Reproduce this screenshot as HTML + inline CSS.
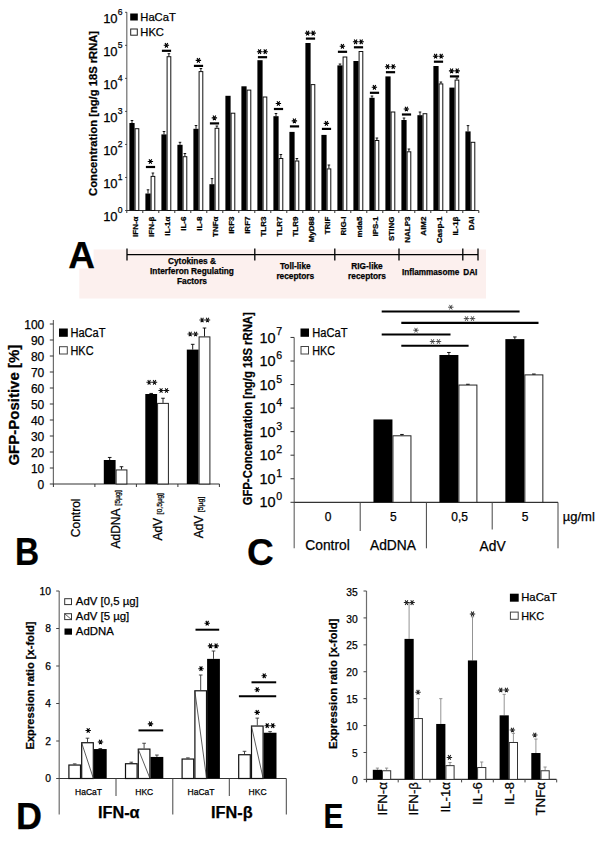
<!DOCTYPE html>
<html><head><meta charset="utf-8"><style>
html,body{margin:0;padding:0;background:#fff;}
svg{display:block;font-family:"Liberation Sans",sans-serif;}
text{stroke:#000;stroke-width:0.25px;}
</style></head><body>
<svg width="600" height="844" viewBox="0 0 600 844">
<rect width="600" height="844" fill="#fff"/>
<rect x="79.3" y="249.5" width="406.7" height="49" fill="#fcf0ee"/>
<rect x="60" y="240" width="33.6" height="28.5" fill="#fff"/>
<line x1="126.8" y1="12.3" x2="126.8" y2="210.5" stroke="#6d6d6d" stroke-width="1.2" />
<line x1="126.8" y1="210.5" x2="478.8" y2="210.5" stroke="#333" stroke-width="1.2" />
<line x1="125.2" y1="210.5" x2="126.8" y2="210.5" stroke="#333" stroke-width="1" />
<text x="117.6" y="221.4" font-size="13" text-anchor="end" fill="#000" >10</text>
<text x="117.7" y="212.9" font-size="8.6" text-anchor="start" fill="#000" >0</text>
<line x1="125.2" y1="177.47" x2="126.8" y2="177.47" stroke="#333" stroke-width="1" />
<text x="117.6" y="188.37" font-size="13" text-anchor="end" fill="#000" >10</text>
<text x="117.7" y="179.87" font-size="8.6" text-anchor="start" fill="#000" >1</text>
<line x1="125.2" y1="144.44" x2="126.8" y2="144.44" stroke="#333" stroke-width="1" />
<text x="117.6" y="155.34" font-size="13" text-anchor="end" fill="#000" >10</text>
<text x="117.7" y="146.84" font-size="8.6" text-anchor="start" fill="#000" >2</text>
<line x1="125.2" y1="111.41" x2="126.8" y2="111.41" stroke="#333" stroke-width="1" />
<text x="117.6" y="122.31" font-size="13" text-anchor="end" fill="#000" >10</text>
<text x="117.7" y="113.81" font-size="8.6" text-anchor="start" fill="#000" >3</text>
<line x1="125.2" y1="78.38" x2="126.8" y2="78.38" stroke="#333" stroke-width="1" />
<text x="117.6" y="89.28" font-size="13" text-anchor="end" fill="#000" >10</text>
<text x="117.7" y="80.78" font-size="8.6" text-anchor="start" fill="#000" >4</text>
<line x1="125.2" y1="45.35" x2="126.8" y2="45.35" stroke="#333" stroke-width="1" />
<text x="117.6" y="56.25" font-size="13" text-anchor="end" fill="#000" >10</text>
<text x="117.7" y="47.75" font-size="8.6" text-anchor="start" fill="#000" >5</text>
<line x1="125.2" y1="12.32" x2="126.8" y2="12.32" stroke="#333" stroke-width="1" />
<text x="117.6" y="23.22" font-size="13" text-anchor="end" fill="#000" >10</text>
<text x="117.7" y="14.72" font-size="8.6" text-anchor="start" fill="#000" >6</text>
<line x1="126.8" y1="210.5" x2="126.8" y2="213" stroke="#333" stroke-width="1" />
<line x1="142.8" y1="210.5" x2="142.8" y2="213" stroke="#333" stroke-width="1" />
<line x1="158.8" y1="210.5" x2="158.8" y2="213" stroke="#333" stroke-width="1" />
<line x1="174.8" y1="210.5" x2="174.8" y2="213" stroke="#333" stroke-width="1" />
<line x1="190.8" y1="210.5" x2="190.8" y2="213" stroke="#333" stroke-width="1" />
<line x1="206.8" y1="210.5" x2="206.8" y2="213" stroke="#333" stroke-width="1" />
<line x1="222.8" y1="210.5" x2="222.8" y2="213" stroke="#333" stroke-width="1" />
<line x1="238.8" y1="210.5" x2="238.8" y2="213" stroke="#333" stroke-width="1" />
<line x1="254.8" y1="210.5" x2="254.8" y2="213" stroke="#333" stroke-width="1" />
<line x1="270.8" y1="210.5" x2="270.8" y2="213" stroke="#333" stroke-width="1" />
<line x1="286.8" y1="210.5" x2="286.8" y2="213" stroke="#333" stroke-width="1" />
<line x1="302.8" y1="210.5" x2="302.8" y2="213" stroke="#333" stroke-width="1" />
<line x1="318.8" y1="210.5" x2="318.8" y2="213" stroke="#333" stroke-width="1" />
<line x1="334.8" y1="210.5" x2="334.8" y2="213" stroke="#333" stroke-width="1" />
<line x1="350.8" y1="210.5" x2="350.8" y2="213" stroke="#333" stroke-width="1" />
<line x1="366.8" y1="210.5" x2="366.8" y2="213" stroke="#333" stroke-width="1" />
<line x1="382.8" y1="210.5" x2="382.8" y2="213" stroke="#333" stroke-width="1" />
<line x1="398.8" y1="210.5" x2="398.8" y2="213" stroke="#333" stroke-width="1" />
<line x1="414.8" y1="210.5" x2="414.8" y2="213" stroke="#333" stroke-width="1" />
<line x1="430.8" y1="210.5" x2="430.8" y2="213" stroke="#333" stroke-width="1" />
<line x1="446.8" y1="210.5" x2="446.8" y2="213" stroke="#333" stroke-width="1" />
<line x1="462.8" y1="210.5" x2="462.8" y2="213" stroke="#333" stroke-width="1" />
<line x1="478.8" y1="210.5" x2="478.8" y2="213" stroke="#333" stroke-width="1" />
<rect x="129.4" y="123" width="5.2" height="87.5" fill="#000"/>
<rect x="135.1" y="128.7" width="3.7" height="81.8" fill="#fff" stroke="#111" stroke-width="1"/>
<line x1="132" y1="123" x2="132" y2="120.5" stroke="#000" stroke-width="0.9" />
<line x1="130.7" y1="120.5" x2="133.3" y2="120.5" stroke="#000" stroke-width="0.9" />
<text x="137.7" y="216.5" font-size="8" text-anchor="end" font-weight="bold" transform="rotate(-90 137.7 216.5)" fill="#000" >IFN-α</text>
<rect x="145.4" y="193.5" width="5.2" height="17" fill="#000"/>
<rect x="151.1" y="176.4" width="3.7" height="34.1" fill="#fff" stroke="#111" stroke-width="1"/>
<line x1="148" y1="193.5" x2="148" y2="189.8" stroke="#000" stroke-width="0.9" />
<line x1="146.7" y1="189.8" x2="149.3" y2="189.8" stroke="#000" stroke-width="0.9" />
<line x1="152.9" y1="175.9" x2="152.9" y2="173" stroke="#000" stroke-width="0.9" />
<line x1="151.6" y1="173" x2="154.2" y2="173" stroke="#000" stroke-width="0.9" />
<rect x="145.9" y="165.9" width="9.2" height="2.2" fill="#000"/>
<path d="M147.71 161.5L153.09 161.5M149.06 159.17L151.74 163.83M151.74 159.17L149.06 163.83" stroke="#000" stroke-width="1.14" fill="none"/>
<text x="153.7" y="216.5" font-size="8" text-anchor="end" font-weight="bold" transform="rotate(-90 153.7 216.5)" fill="#000" >IFN-β</text>
<rect x="161.4" y="134.4" width="5.2" height="76.1" fill="#000"/>
<rect x="167.1" y="56.7" width="3.7" height="153.8" fill="#fff" stroke="#111" stroke-width="1"/>
<line x1="164" y1="134.4" x2="164" y2="131.5" stroke="#000" stroke-width="0.9" />
<line x1="162.7" y1="131.5" x2="165.3" y2="131.5" stroke="#000" stroke-width="0.9" />
<line x1="168.9" y1="56.2" x2="168.9" y2="53.7" stroke="#000" stroke-width="0.9" />
<line x1="167.6" y1="53.7" x2="170.2" y2="53.7" stroke="#000" stroke-width="0.9" />
<rect x="161.9" y="49.7" width="9.2" height="2.2" fill="#000"/>
<path d="M163.71 45.3L169.09 45.3M165.06 42.97L167.74 47.63M167.74 42.97L165.06 47.63" stroke="#000" stroke-width="1.14" fill="none"/>
<text x="169.7" y="216.5" font-size="8" text-anchor="end" font-weight="bold" transform="rotate(-90 169.7 216.5)" fill="#000" >IL-1α</text>
<rect x="177.4" y="144.8" width="5.2" height="65.7" fill="#000"/>
<rect x="183.1" y="156.7" width="3.7" height="53.8" fill="#fff" stroke="#111" stroke-width="1"/>
<line x1="180" y1="144.8" x2="180" y2="142.3" stroke="#000" stroke-width="0.9" />
<line x1="178.7" y1="142.3" x2="181.3" y2="142.3" stroke="#000" stroke-width="0.9" />
<line x1="184.9" y1="156.2" x2="184.9" y2="153.5" stroke="#000" stroke-width="0.9" />
<line x1="183.6" y1="153.5" x2="186.2" y2="153.5" stroke="#000" stroke-width="0.9" />
<text x="185.7" y="216.5" font-size="8" text-anchor="end" font-weight="bold" transform="rotate(-90 185.7 216.5)" fill="#000" >IL-6</text>
<rect x="193.4" y="128.8" width="5.2" height="81.7" fill="#000"/>
<rect x="199.1" y="71.6" width="3.7" height="138.9" fill="#fff" stroke="#111" stroke-width="1"/>
<line x1="196" y1="128.8" x2="196" y2="125.5" stroke="#000" stroke-width="0.9" />
<line x1="194.7" y1="125.5" x2="197.3" y2="125.5" stroke="#000" stroke-width="0.9" />
<line x1="200.9" y1="71.1" x2="200.9" y2="68.5" stroke="#000" stroke-width="0.9" />
<line x1="199.6" y1="68.5" x2="202.2" y2="68.5" stroke="#000" stroke-width="0.9" />
<rect x="193.9" y="64.8" width="9.2" height="2.2" fill="#000"/>
<path d="M195.71 60.4L201.09 60.4M197.06 58.07L199.74 62.73M199.74 58.07L197.06 62.73" stroke="#000" stroke-width="1.14" fill="none"/>
<text x="201.7" y="216.5" font-size="8" text-anchor="end" font-weight="bold" transform="rotate(-90 201.7 216.5)" fill="#000" >IL-8</text>
<rect x="209.4" y="184.2" width="5.2" height="26.3" fill="#000"/>
<rect x="215.1" y="128.3" width="3.7" height="82.2" fill="#fff" stroke="#111" stroke-width="1"/>
<line x1="212" y1="184.2" x2="212" y2="178.6" stroke="#000" stroke-width="0.9" />
<line x1="210.7" y1="178.6" x2="213.3" y2="178.6" stroke="#000" stroke-width="0.9" />
<line x1="216.9" y1="127.8" x2="216.9" y2="126" stroke="#000" stroke-width="0.9" />
<line x1="215.6" y1="126" x2="218.2" y2="126" stroke="#000" stroke-width="0.9" />
<rect x="209.9" y="122.3" width="9.2" height="2.2" fill="#000"/>
<path d="M211.71 117.9L217.09 117.9M213.06 115.57L215.74 120.23M215.74 115.57L213.06 120.23" stroke="#000" stroke-width="1.14" fill="none"/>
<text x="217.7" y="216.5" font-size="8" text-anchor="end" font-weight="bold" transform="rotate(-90 217.7 216.5)" fill="#000" >TNFα</text>
<rect x="225.4" y="95.8" width="5.2" height="114.7" fill="#000"/>
<rect x="231.1" y="113.2" width="3.7" height="97.3" fill="#fff" stroke="#111" stroke-width="1"/>
<text x="233.7" y="216.5" font-size="8" text-anchor="end" font-weight="bold" transform="rotate(-90 233.7 216.5)" fill="#000" >IRF3</text>
<rect x="241.4" y="86.3" width="5.2" height="124.2" fill="#000"/>
<rect x="247.1" y="90.1" width="3.7" height="120.4" fill="#fff" stroke="#111" stroke-width="1"/>
<text x="249.7" y="216.5" font-size="8" text-anchor="end" font-weight="bold" transform="rotate(-90 249.7 216.5)" fill="#000" >IRF7</text>
<rect x="257.4" y="60.2" width="5.2" height="150.3" fill="#000"/>
<rect x="263.1" y="97" width="3.7" height="113.5" fill="#fff" stroke="#111" stroke-width="1"/>
<rect x="257.9" y="56.1" width="9.2" height="2.2" fill="#000"/>
<path d="M256.91 51.7L262.29 51.7M258.26 49.37L260.94 54.03M260.94 49.37L258.26 54.03" stroke="#000" stroke-width="1.14" fill="none"/>
<path d="M262.51 51.7L267.89 51.7M263.86 49.37L266.54 54.03M266.54 49.37L263.86 54.03" stroke="#000" stroke-width="1.14" fill="none"/>
<text x="265.7" y="216.5" font-size="8" text-anchor="end" font-weight="bold" transform="rotate(-90 265.7 216.5)" fill="#000" >TLR3</text>
<rect x="273.4" y="116.2" width="5.2" height="94.3" fill="#000"/>
<rect x="279.1" y="158.5" width="3.7" height="52" fill="#fff" stroke="#111" stroke-width="1"/>
<line x1="276" y1="116.2" x2="276" y2="113.5" stroke="#000" stroke-width="0.9" />
<line x1="274.7" y1="113.5" x2="277.3" y2="113.5" stroke="#000" stroke-width="0.9" />
<line x1="280.9" y1="158" x2="280.9" y2="154.5" stroke="#000" stroke-width="0.9" />
<line x1="279.6" y1="154.5" x2="282.2" y2="154.5" stroke="#000" stroke-width="0.9" />
<rect x="273.9" y="107.9" width="9.2" height="2.2" fill="#000"/>
<path d="M275.71 103.5L281.09 103.5M277.06 101.17L279.74 105.83M279.74 101.17L277.06 105.83" stroke="#000" stroke-width="1.14" fill="none"/>
<text x="281.7" y="216.5" font-size="8" text-anchor="end" font-weight="bold" transform="rotate(-90 281.7 216.5)" fill="#000" >TLR7</text>
<rect x="289.4" y="131.9" width="5.2" height="78.6" fill="#000"/>
<rect x="295.1" y="161" width="3.7" height="49.5" fill="#fff" stroke="#111" stroke-width="1"/>
<line x1="296.9" y1="160.5" x2="296.9" y2="158.5" stroke="#000" stroke-width="0.9" />
<line x1="295.6" y1="158.5" x2="298.2" y2="158.5" stroke="#000" stroke-width="0.9" />
<rect x="289.9" y="125.3" width="9.2" height="2.2" fill="#000"/>
<path d="M291.71 120.9L297.09 120.9M293.06 118.57L295.74 123.23M295.74 118.57L293.06 123.23" stroke="#000" stroke-width="1.14" fill="none"/>
<text x="297.7" y="216.5" font-size="8" text-anchor="end" font-weight="bold" transform="rotate(-90 297.7 216.5)" fill="#000" >TLR9</text>
<rect x="305.4" y="43" width="5.2" height="167.5" fill="#000"/>
<rect x="311.1" y="84.6" width="3.7" height="125.9" fill="#fff" stroke="#111" stroke-width="1"/>
<rect x="305.9" y="37.5" width="9.2" height="2.2" fill="#000"/>
<path d="M304.91 33.1L310.29 33.1M306.26 30.77L308.94 35.43M308.94 30.77L306.26 35.43" stroke="#000" stroke-width="1.14" fill="none"/>
<path d="M310.51 33.1L315.89 33.1M311.86 30.77L314.54 35.43M314.54 30.77L311.86 35.43" stroke="#000" stroke-width="1.14" fill="none"/>
<text x="313.7" y="216.5" font-size="8" text-anchor="end" font-weight="bold" transform="rotate(-90 313.7 216.5)" fill="#000" >MyD88</text>
<rect x="321.4" y="134.9" width="5.2" height="75.6" fill="#000"/>
<rect x="327.1" y="168.9" width="3.7" height="41.6" fill="#fff" stroke="#111" stroke-width="1"/>
<line x1="328.9" y1="168.4" x2="328.9" y2="165" stroke="#000" stroke-width="0.9" />
<line x1="327.6" y1="165" x2="330.2" y2="165" stroke="#000" stroke-width="0.9" />
<rect x="321.9" y="127.8" width="9.2" height="2.2" fill="#000"/>
<path d="M323.71 123.4L329.09 123.4M325.06 121.07L327.74 125.73M327.74 121.07L325.06 125.73" stroke="#000" stroke-width="1.14" fill="none"/>
<text x="329.7" y="216.5" font-size="8" text-anchor="end" font-weight="bold" transform="rotate(-90 329.7 216.5)" fill="#000" >TRIF</text>
<rect x="337.4" y="65.4" width="5.2" height="145.1" fill="#000"/>
<rect x="343.1" y="57" width="3.7" height="153.5" fill="#fff" stroke="#111" stroke-width="1"/>
<line x1="340" y1="65.4" x2="340" y2="64" stroke="#000" stroke-width="0.9" />
<line x1="338.7" y1="64" x2="341.3" y2="64" stroke="#000" stroke-width="0.9" />
<rect x="337.9" y="50.7" width="9.2" height="2.2" fill="#000"/>
<path d="M339.71 46.3L345.09 46.3M341.06 43.97L343.74 48.63M343.74 43.97L341.06 48.63" stroke="#000" stroke-width="1.14" fill="none"/>
<text x="345.7" y="216.5" font-size="8" text-anchor="end" font-weight="bold" transform="rotate(-90 345.7 216.5)" fill="#000" >RIG-I</text>
<rect x="353.4" y="61" width="5.2" height="149.5" fill="#000"/>
<rect x="359.1" y="51.5" width="3.7" height="159" fill="#fff" stroke="#111" stroke-width="1"/>
<rect x="353.9" y="46.2" width="9.2" height="2.2" fill="#000"/>
<path d="M352.91 41.8L358.29 41.8M354.26 39.47L356.94 44.13M356.94 39.47L354.26 44.13" stroke="#000" stroke-width="1.14" fill="none"/>
<path d="M358.51 41.8L363.89 41.8M359.86 39.47L362.54 44.13M362.54 39.47L359.86 44.13" stroke="#000" stroke-width="1.14" fill="none"/>
<text x="361.7" y="216.5" font-size="8" text-anchor="end" font-weight="bold" transform="rotate(-90 361.7 216.5)" fill="#000" >mda5</text>
<rect x="369.4" y="97.8" width="5.2" height="112.7" fill="#000"/>
<rect x="375.1" y="140.5" width="3.7" height="70" fill="#fff" stroke="#111" stroke-width="1"/>
<line x1="372" y1="97.8" x2="372" y2="96" stroke="#000" stroke-width="0.9" />
<line x1="370.7" y1="96" x2="373.3" y2="96" stroke="#000" stroke-width="0.9" />
<line x1="376.9" y1="140" x2="376.9" y2="138" stroke="#000" stroke-width="0.9" />
<line x1="375.6" y1="138" x2="378.2" y2="138" stroke="#000" stroke-width="0.9" />
<rect x="369.9" y="91.7" width="9.2" height="2.2" fill="#000"/>
<path d="M371.71 87.3L377.09 87.3M373.06 84.97L375.74 89.63M375.74 84.97L373.06 89.63" stroke="#000" stroke-width="1.14" fill="none"/>
<text x="377.7" y="216.5" font-size="8" text-anchor="end" font-weight="bold" transform="rotate(-90 377.7 216.5)" fill="#000" >IPS-1</text>
<rect x="385.4" y="76.4" width="5.2" height="134.1" fill="#000"/>
<rect x="391.1" y="112" width="3.7" height="98.5" fill="#fff" stroke="#111" stroke-width="1"/>
<rect x="385.9" y="71.1" width="9.2" height="2.2" fill="#000"/>
<path d="M384.91 66.7L390.29 66.7M386.26 64.37L388.94 69.03M388.94 64.37L386.26 69.03" stroke="#000" stroke-width="1.14" fill="none"/>
<path d="M390.51 66.7L395.89 66.7M391.86 64.37L394.54 69.03M394.54 64.37L391.86 69.03" stroke="#000" stroke-width="1.14" fill="none"/>
<text x="393.7" y="216.5" font-size="8" text-anchor="end" font-weight="bold" transform="rotate(-90 393.7 216.5)" fill="#000" >STING</text>
<rect x="401.4" y="120" width="5.2" height="90.5" fill="#000"/>
<rect x="407.1" y="151.8" width="3.7" height="58.7" fill="#fff" stroke="#111" stroke-width="1"/>
<line x1="404" y1="120" x2="404" y2="118" stroke="#000" stroke-width="0.9" />
<line x1="402.7" y1="118" x2="405.3" y2="118" stroke="#000" stroke-width="0.9" />
<line x1="408.9" y1="151.3" x2="408.9" y2="149" stroke="#000" stroke-width="0.9" />
<line x1="407.6" y1="149" x2="410.2" y2="149" stroke="#000" stroke-width="0.9" />
<rect x="401.9" y="113.4" width="9.2" height="2.2" fill="#000"/>
<path d="M403.71 109L409.09 109M405.06 106.67L407.74 111.33M407.74 106.67L405.06 111.33" stroke="#000" stroke-width="1.14" fill="none"/>
<text x="409.7" y="216.5" font-size="8" text-anchor="end" font-weight="bold" transform="rotate(-90 409.7 216.5)" fill="#000" >NALP3</text>
<rect x="417.4" y="115.2" width="5.2" height="95.3" fill="#000"/>
<rect x="423.1" y="113.7" width="3.7" height="96.8" fill="#fff" stroke="#111" stroke-width="1"/>
<line x1="420" y1="115.2" x2="420" y2="112" stroke="#000" stroke-width="0.9" />
<line x1="418.7" y1="112" x2="421.3" y2="112" stroke="#000" stroke-width="0.9" />
<text x="425.7" y="216.5" font-size="8" text-anchor="end" font-weight="bold" transform="rotate(-90 425.7 216.5)" fill="#000" >AIM2</text>
<rect x="433.4" y="66" width="5.2" height="144.5" fill="#000"/>
<rect x="439.1" y="83.9" width="3.7" height="126.6" fill="#fff" stroke="#111" stroke-width="1"/>
<line x1="440.9" y1="83.4" x2="440.9" y2="82" stroke="#000" stroke-width="0.9" />
<line x1="439.6" y1="82" x2="442.2" y2="82" stroke="#000" stroke-width="0.9" />
<rect x="433.9" y="60.6" width="9.2" height="2.2" fill="#000"/>
<path d="M432.91 56.2L438.29 56.2M434.26 53.87L436.94 58.53M436.94 53.87L434.26 58.53" stroke="#000" stroke-width="1.14" fill="none"/>
<path d="M438.51 56.2L443.89 56.2M439.86 53.87L442.54 58.53M442.54 53.87L439.86 58.53" stroke="#000" stroke-width="1.14" fill="none"/>
<text x="441.7" y="216.5" font-size="8" text-anchor="end" font-weight="bold" transform="rotate(-90 441.7 216.5)" fill="#000" >Casp-1</text>
<rect x="449.4" y="87.6" width="5.2" height="122.9" fill="#000"/>
<rect x="455.1" y="80.1" width="3.7" height="130.4" fill="#fff" stroke="#111" stroke-width="1"/>
<line x1="456.9" y1="79.6" x2="456.9" y2="78" stroke="#000" stroke-width="0.9" />
<line x1="455.6" y1="78" x2="458.2" y2="78" stroke="#000" stroke-width="0.9" />
<rect x="449.9" y="75.3" width="9.2" height="2.2" fill="#000"/>
<path d="M448.91 70.9L454.29 70.9M450.26 68.57L452.94 73.23M452.94 68.57L450.26 73.23" stroke="#000" stroke-width="1.14" fill="none"/>
<path d="M454.51 70.9L459.89 70.9M455.86 68.57L458.54 73.23M458.54 68.57L455.86 73.23" stroke="#000" stroke-width="1.14" fill="none"/>
<text x="457.7" y="216.5" font-size="8" text-anchor="end" font-weight="bold" transform="rotate(-90 457.7 216.5)" fill="#000" >IL-1β</text>
<rect x="465.4" y="131.4" width="5.2" height="79.1" fill="#000"/>
<rect x="471.1" y="142.3" width="3.7" height="68.2" fill="#fff" stroke="#111" stroke-width="1"/>
<line x1="468" y1="131.4" x2="468" y2="125.6" stroke="#000" stroke-width="0.9" />
<line x1="466.7" y1="125.6" x2="469.3" y2="125.6" stroke="#000" stroke-width="0.9" />
<text x="473.7" y="216.5" font-size="8" text-anchor="end" font-weight="bold" transform="rotate(-90 473.7 216.5)" fill="#000" >DAI</text>
<text x="96.6" y="113.4" font-size="10.6" text-anchor="middle" font-weight="bold" transform="rotate(-90 96.6 113.4)" fill="#000" textLength="165" lengthAdjust="spacingAndGlyphs">Concentration [ng/g 18S rRNA]</text>
<rect x="130.2" y="13.5" width="7.6" height="7" fill="#000"/>
<rect x="130.7" y="29" width="6.6" height="6.2" fill="#fff" stroke="#222" stroke-width="1"/>
<text x="140.3" y="20.7" font-size="11.2" text-anchor="start" fill="#000" >HaCaT</text>
<text x="140.3" y="35.6" font-size="11.2" text-anchor="start" fill="#000" >HKC</text>
<line x1="127" y1="254.6" x2="478" y2="254.6" stroke="#000" stroke-width="1.3" />
<line x1="127" y1="248.6" x2="127" y2="260.6" stroke="#000" stroke-width="1.3" />
<line x1="254.8" y1="248.6" x2="254.8" y2="260.6" stroke="#000" stroke-width="1.3" />
<line x1="334.8" y1="248.6" x2="334.8" y2="260.6" stroke="#000" stroke-width="1.3" />
<line x1="399" y1="248.6" x2="399" y2="260.6" stroke="#000" stroke-width="1.3" />
<line x1="462.8" y1="248.6" x2="462.8" y2="260.6" stroke="#000" stroke-width="1.3" />
<line x1="478" y1="248.6" x2="478" y2="260.6" stroke="#000" stroke-width="1.3" />
<text x="192" y="263.6" font-size="8.3" text-anchor="middle" font-weight="bold" fill="#000" >Cytokines &amp;</text>
<text x="192" y="273.7" font-size="8.3" text-anchor="middle" font-weight="bold" fill="#000" >Interferon Regulating</text>
<text x="192" y="283.7" font-size="8.3" text-anchor="middle" font-weight="bold" fill="#000" >Factors</text>
<text x="295.3" y="269" font-size="8.3" text-anchor="middle" font-weight="bold" fill="#000" >Toll-like</text>
<text x="295.3" y="279.3" font-size="8.3" text-anchor="middle" font-weight="bold" fill="#000" >receptors</text>
<text x="367" y="269" font-size="8.3" text-anchor="middle" font-weight="bold" fill="#000" >RIG-like</text>
<text x="367" y="279.3" font-size="8.3" text-anchor="middle" font-weight="bold" fill="#000" >receptors</text>
<text x="430.6" y="275" font-size="8.2" text-anchor="middle" font-weight="bold" fill="#000" >Inflammasome</text>
<text x="470.3" y="275" font-size="8.2" text-anchor="middle" font-weight="bold" fill="#000" >DAI</text>
<text x="68.3" y="268" font-size="37" text-anchor="start" font-weight="bold" fill="#000" >A</text>
<line x1="53.4" y1="320" x2="53.4" y2="484" stroke="#6d6d6d" stroke-width="1.2" />
<line x1="53.4" y1="484" x2="219.5" y2="484" stroke="#333" stroke-width="1.2" />
<line x1="49.8" y1="484" x2="53.4" y2="484" stroke="#333" stroke-width="1" />
<text x="44.3" y="489.3" font-size="12" text-anchor="end" fill="#000" >0</text>
<line x1="49.8" y1="468" x2="53.4" y2="468" stroke="#333" stroke-width="1" />
<text x="44.3" y="473.3" font-size="12" text-anchor="end" fill="#000" >10</text>
<line x1="49.8" y1="452" x2="53.4" y2="452" stroke="#333" stroke-width="1" />
<text x="44.3" y="457.3" font-size="12" text-anchor="end" fill="#000" >20</text>
<line x1="49.8" y1="436" x2="53.4" y2="436" stroke="#333" stroke-width="1" />
<text x="44.3" y="441.3" font-size="12" text-anchor="end" fill="#000" >30</text>
<line x1="49.8" y1="420" x2="53.4" y2="420" stroke="#333" stroke-width="1" />
<text x="44.3" y="425.3" font-size="12" text-anchor="end" fill="#000" >40</text>
<line x1="49.8" y1="404" x2="53.4" y2="404" stroke="#333" stroke-width="1" />
<text x="44.3" y="409.3" font-size="12" text-anchor="end" fill="#000" >50</text>
<line x1="49.8" y1="388" x2="53.4" y2="388" stroke="#333" stroke-width="1" />
<text x="44.3" y="393.3" font-size="12" text-anchor="end" fill="#000" >60</text>
<line x1="49.8" y1="372" x2="53.4" y2="372" stroke="#333" stroke-width="1" />
<text x="44.3" y="377.3" font-size="12" text-anchor="end" fill="#000" >70</text>
<line x1="49.8" y1="356" x2="53.4" y2="356" stroke="#333" stroke-width="1" />
<text x="44.3" y="361.3" font-size="12" text-anchor="end" fill="#000" >80</text>
<line x1="49.8" y1="340" x2="53.4" y2="340" stroke="#333" stroke-width="1" />
<text x="44.3" y="345.3" font-size="12" text-anchor="end" fill="#000" >90</text>
<line x1="49.8" y1="324" x2="53.4" y2="324" stroke="#333" stroke-width="1" />
<text x="44.3" y="329.3" font-size="12" text-anchor="end" fill="#000" >100</text>
<line x1="53.4" y1="484" x2="53.4" y2="487" stroke="#333" stroke-width="1" />
<line x1="94.9" y1="484" x2="94.9" y2="487" stroke="#333" stroke-width="1" />
<line x1="136.4" y1="484" x2="136.4" y2="487" stroke="#333" stroke-width="1" />
<line x1="177.9" y1="484" x2="177.9" y2="487" stroke="#333" stroke-width="1" />
<line x1="219.4" y1="484" x2="219.4" y2="487" stroke="#333" stroke-width="1" />
<rect x="103.8" y="460" width="11.8" height="24" fill="#000"/>
<rect x="116.1" y="469.94" width="10.8" height="14.06" fill="#fff" stroke="#222" stroke-width="1"/>
<line x1="109.7" y1="460" x2="109.7" y2="457.44" stroke="#000" stroke-width="0.9" />
<line x1="107.9" y1="457.44" x2="111.5" y2="457.44" stroke="#000" stroke-width="0.9" />
<line x1="121.5" y1="469.44" x2="121.5" y2="466.72" stroke="#000" stroke-width="0.9" />
<line x1="119.7" y1="466.72" x2="123.3" y2="466.72" stroke="#000" stroke-width="0.9" />
<rect x="145.3" y="394" width="11.8" height="90" fill="#000"/>
<rect x="157.6" y="403.38" width="10.8" height="80.62" fill="#fff" stroke="#222" stroke-width="1"/>
<line x1="151.2" y1="394" x2="151.2" y2="393.44" stroke="#000" stroke-width="0.9" />
<line x1="149.4" y1="393.44" x2="153" y2="393.44" stroke="#000" stroke-width="0.9" />
<line x1="163" y1="402.88" x2="163" y2="398.24" stroke="#000" stroke-width="0.9" />
<line x1="161.2" y1="398.24" x2="164.8" y2="398.24" stroke="#000" stroke-width="0.9" />
<rect x="186.8" y="349.6" width="11.8" height="134.4" fill="#000"/>
<rect x="199.1" y="336.9" width="10.8" height="147.1" fill="#fff" stroke="#222" stroke-width="1"/>
<line x1="192.7" y1="349.6" x2="192.7" y2="344.32" stroke="#000" stroke-width="0.9" />
<line x1="190.9" y1="344.32" x2="194.5" y2="344.32" stroke="#000" stroke-width="0.9" />
<line x1="204.5" y1="336.4" x2="204.5" y2="328" stroke="#000" stroke-width="0.9" />
<line x1="202.7" y1="328" x2="206.3" y2="328" stroke="#000" stroke-width="0.9" />
<path d="M146.41 382.3L151.79 382.3M147.76 379.97L150.44 384.63M150.44 379.97L147.76 384.63" stroke="#111" stroke-width="1.04" fill="none"/>
<path d="M151.81 382.3L157.19 382.3M153.16 379.97L155.84 384.63M155.84 379.97L153.16 384.63" stroke="#111" stroke-width="1.04" fill="none"/>
<path d="M158.41 390.5L163.79 390.5M159.76 388.17L162.44 392.83M162.44 388.17L159.76 392.83" stroke="#111" stroke-width="1.04" fill="none"/>
<path d="M163.81 390.5L169.19 390.5M165.16 388.17L167.84 392.83M167.84 388.17L165.16 392.83" stroke="#111" stroke-width="1.04" fill="none"/>
<path d="M187.51 334L192.89 334M188.86 331.67L191.54 336.33M191.54 331.67L188.86 336.33" stroke="#111" stroke-width="1.04" fill="none"/>
<path d="M192.91 334L198.29 334M194.26 331.67L196.94 336.33M196.94 331.67L194.26 336.33" stroke="#111" stroke-width="1.04" fill="none"/>
<path d="M199.41 320L204.79 320M200.76 317.67L203.44 322.33M203.44 317.67L200.76 322.33" stroke="#111" stroke-width="1.04" fill="none"/>
<path d="M204.81 320L210.19 320M206.16 317.67L208.84 322.33M208.84 317.67L206.16 322.33" stroke="#111" stroke-width="1.04" fill="none"/>
<text x="19" y="405.2" font-size="15" text-anchor="middle" font-weight="bold" transform="rotate(-90 19 405.2)" fill="#000" >GFP-Positive [%]</text>
<rect x="59" y="328.5" width="8.8" height="8.3" fill="#000"/>
<rect x="59.5" y="346.7" width="7.8" height="7.3" fill="#fff" stroke="#444" stroke-width="1"/>
<text x="70.5" y="336.8" font-size="12" text-anchor="start" fill="#000" textLength="35" lengthAdjust="spacingAndGlyphs">HaCaT</text>
<text x="70.5" y="354.5" font-size="12" text-anchor="start" fill="#000" textLength="23" lengthAdjust="spacingAndGlyphs">HKC</text>
<text x="79.8" y="517.8" font-size="12" text-anchor="middle" transform="rotate(-90 79.8 517.8)" fill="#000" >Control</text>
<text transform="translate(120.3 519.3) rotate(-90)" font-size="12" text-anchor="middle">AdDNA <tspan font-size="7">[5µg]</tspan></text>
<text transform="translate(161.8 516.8) rotate(-90)" font-size="12" text-anchor="middle">AdV <tspan font-size="7">[0,5µg]</tspan></text>
<text transform="translate(203.3 517.5) rotate(-90)" font-size="12" text-anchor="middle">AdV <tspan font-size="7">[5µg]</tspan></text>
<text transform="translate(14.9 565.2) scale(0.88 1)" font-size="38" font-weight="bold">B</text>
<line x1="294.2" y1="337.6" x2="294.2" y2="548.3" stroke="#6d6d6d" stroke-width="1.2" />
<line x1="294.2" y1="502.3" x2="558" y2="502.3" stroke="#333" stroke-width="1.2" />
<line x1="290.5" y1="502.3" x2="294.2" y2="502.3" stroke="#333" stroke-width="1" />
<text x="275.6" y="507.4" font-size="14.5" text-anchor="end" fill="#000" >10</text>
<text x="276.2" y="500.3" font-size="10.6" text-anchor="start" fill="#000" >0</text>
<line x1="290.5" y1="478.75" x2="294.2" y2="478.75" stroke="#333" stroke-width="1" />
<text x="275.6" y="483.85" font-size="14.5" text-anchor="end" fill="#000" >10</text>
<text x="276.2" y="476.75" font-size="10.6" text-anchor="start" fill="#000" >1</text>
<line x1="290.5" y1="455.2" x2="294.2" y2="455.2" stroke="#333" stroke-width="1" />
<text x="275.6" y="460.3" font-size="14.5" text-anchor="end" fill="#000" >10</text>
<text x="276.2" y="453.2" font-size="10.6" text-anchor="start" fill="#000" >2</text>
<line x1="290.5" y1="431.65" x2="294.2" y2="431.65" stroke="#333" stroke-width="1" />
<text x="275.6" y="436.75" font-size="14.5" text-anchor="end" fill="#000" >10</text>
<text x="276.2" y="429.65" font-size="10.6" text-anchor="start" fill="#000" >3</text>
<line x1="290.5" y1="408.1" x2="294.2" y2="408.1" stroke="#333" stroke-width="1" />
<text x="275.6" y="413.2" font-size="14.5" text-anchor="end" fill="#000" >10</text>
<text x="276.2" y="406.1" font-size="10.6" text-anchor="start" fill="#000" >4</text>
<line x1="290.5" y1="384.55" x2="294.2" y2="384.55" stroke="#333" stroke-width="1" />
<text x="275.6" y="389.65" font-size="14.5" text-anchor="end" fill="#000" >10</text>
<text x="276.2" y="382.55" font-size="10.6" text-anchor="start" fill="#000" >5</text>
<line x1="290.5" y1="361" x2="294.2" y2="361" stroke="#333" stroke-width="1" />
<text x="275.6" y="366.1" font-size="14.5" text-anchor="end" fill="#000" >10</text>
<text x="276.2" y="359" font-size="10.6" text-anchor="start" fill="#000" >6</text>
<line x1="290.5" y1="337.45" x2="294.2" y2="337.45" stroke="#333" stroke-width="1" />
<text x="275.6" y="342.55" font-size="14.5" text-anchor="end" fill="#000" >10</text>
<text x="276.2" y="335.45" font-size="10.6" text-anchor="start" fill="#000" >7</text>
<line x1="360.2" y1="502.3" x2="360.2" y2="531" stroke="#444" stroke-width="1" />
<line x1="426.4" y1="502.3" x2="426.4" y2="548.3" stroke="#444" stroke-width="1" />
<line x1="492.2" y1="502.3" x2="492.2" y2="529.5" stroke="#444" stroke-width="1" />
<line x1="558" y1="502.3" x2="558" y2="548.3" stroke="#444" stroke-width="1" />
<rect x="373.45" y="419.44" width="19" height="82.86" fill="#000"/>
<rect x="392.95" y="435.8" width="18" height="66.5" fill="#fff" stroke="#222" stroke-width="1"/>
<line x1="401.95" y1="435.3" x2="401.95" y2="434.46" stroke="#000" stroke-width="0.9" />
<line x1="400.15" y1="434.46" x2="403.75" y2="434.46" stroke="#000" stroke-width="0.9" />
<rect x="439.4" y="354.99" width="19" height="147.31" fill="#000"/>
<rect x="458.9" y="385.05" width="18" height="117.25" fill="#fff" stroke="#222" stroke-width="1"/>
<line x1="448.9" y1="354.99" x2="448.9" y2="352.48" stroke="#000" stroke-width="0.9" />
<line x1="447.1" y1="352.48" x2="450.7" y2="352.48" stroke="#000" stroke-width="0.9" />
<line x1="467.9" y1="384.55" x2="467.9" y2="384.25" stroke="#000" stroke-width="0.9" />
<line x1="466.1" y1="384.25" x2="469.7" y2="384.25" stroke="#000" stroke-width="0.9" />
<rect x="505.35" y="339.11" width="19" height="163.19" fill="#000"/>
<rect x="524.85" y="374.89" width="18" height="127.41" fill="#fff" stroke="#222" stroke-width="1"/>
<line x1="514.85" y1="339.11" x2="514.85" y2="336.95" stroke="#000" stroke-width="0.9" />
<line x1="513.05" y1="336.95" x2="516.65" y2="336.95" stroke="#000" stroke-width="0.9" />
<line x1="533.85" y1="374.39" x2="533.85" y2="374.02" stroke="#000" stroke-width="0.9" />
<line x1="532.05" y1="374.02" x2="535.65" y2="374.02" stroke="#000" stroke-width="0.9" />
<line x1="381.7" y1="311.5" x2="519.6" y2="311.5" stroke="#000" stroke-width="2.1" />
<path d="M448.11 307.2L453.49 307.2M449.46 304.87L452.14 309.53M452.14 304.87L449.46 309.53" stroke="#333" stroke-width="0.85" fill="none"/>
<line x1="401.3" y1="322.9" x2="538.5" y2="322.9" stroke="#000" stroke-width="2.1" />
<path d="M463.81 318.6L469.19 318.6M465.16 316.27L467.84 320.93M467.84 316.27L465.16 320.93" stroke="#333" stroke-width="0.85" fill="none"/>
<path d="M469.81 318.6L475.19 318.6M471.16 316.27L473.84 320.93M473.84 316.27L471.16 320.93" stroke="#333" stroke-width="0.85" fill="none"/>
<line x1="381.7" y1="334.5" x2="450.5" y2="334.5" stroke="#000" stroke-width="2.1" />
<path d="M413.31 330.2L418.69 330.2M414.66 327.87L417.34 332.53M417.34 327.87L414.66 332.53" stroke="#333" stroke-width="0.85" fill="none"/>
<line x1="401.3" y1="345.8" x2="468.6" y2="345.8" stroke="#000" stroke-width="2.1" />
<path d="M429.81 341.5L435.19 341.5M431.16 339.17L433.84 343.83M433.84 339.17L431.16 343.83" stroke="#333" stroke-width="0.85" fill="none"/>
<path d="M435.81 341.5L441.19 341.5M437.16 339.17L439.84 343.83M439.84 339.17L437.16 343.83" stroke="#333" stroke-width="0.85" fill="none"/>
<text x="252.2" y="408.8" font-size="12.2" text-anchor="middle" font-weight="bold" transform="rotate(-90 252.2 408.8)" fill="#000" textLength="193" lengthAdjust="spacingAndGlyphs">GFP-Concentration [ng/g 18S rRNA]</text>
<rect x="300.5" y="328.5" width="8.5" height="8.3" fill="#000"/>
<rect x="301" y="346.5" width="7.5" height="7.5" fill="#fff" stroke="#444" stroke-width="1"/>
<text x="312.3" y="336.8" font-size="12" text-anchor="start" fill="#000" textLength="35.2" lengthAdjust="spacingAndGlyphs">HaCaT</text>
<text x="312.3" y="354.5" font-size="12" text-anchor="start" fill="#000" textLength="22.8" lengthAdjust="spacingAndGlyphs">HKC</text>
<text x="328.2" y="520.9" font-size="12" text-anchor="middle" fill="#000" >0</text>
<text x="393.3" y="520.9" font-size="12" text-anchor="middle" fill="#000" >5</text>
<text x="459.7" y="520.9" font-size="12" text-anchor="middle" fill="#000" >0,5</text>
<text x="525" y="520.9" font-size="12" text-anchor="middle" fill="#000" >5</text>
<text x="562.8" y="521" font-size="12.3" text-anchor="start" fill="#000" textLength="32" lengthAdjust="spacingAndGlyphs">µg/ml</text>
<text x="327.5" y="549.7" font-size="13.8" text-anchor="middle" fill="#000" >Control</text>
<text x="393" y="549.7" font-size="13.8" text-anchor="middle" fill="#000" >AdDNA</text>
<text x="492.6" y="550.5" font-size="13.8" text-anchor="middle" fill="#000" >AdV</text>
<text x="247" y="565.3" font-size="37" text-anchor="start" font-weight="bold" fill="#000" >C</text>
<line x1="59.2" y1="591" x2="59.2" y2="814.5" stroke="#6d6d6d" stroke-width="1.2" />
<line x1="59.2" y1="778.5" x2="286.3" y2="778.5" stroke="#333" stroke-width="1.2" />
<line x1="56.2" y1="778.5" x2="59.2" y2="778.5" stroke="#444" stroke-width="1" />
<text x="51" y="782.4" font-size="10.3" text-anchor="end" fill="#000" >0</text>
<line x1="56.2" y1="741" x2="59.2" y2="741" stroke="#444" stroke-width="1" />
<text x="51" y="744.9" font-size="10.3" text-anchor="end" fill="#000" >2</text>
<line x1="56.2" y1="703.5" x2="59.2" y2="703.5" stroke="#444" stroke-width="1" />
<text x="51" y="707.4" font-size="10.3" text-anchor="end" fill="#000" >4</text>
<line x1="56.2" y1="666" x2="59.2" y2="666" stroke="#444" stroke-width="1" />
<text x="51" y="669.9" font-size="10.3" text-anchor="end" fill="#000" >6</text>
<line x1="56.2" y1="628.5" x2="59.2" y2="628.5" stroke="#444" stroke-width="1" />
<text x="51" y="632.4" font-size="10.3" text-anchor="end" fill="#000" >8</text>
<line x1="56.2" y1="591" x2="59.2" y2="591" stroke="#444" stroke-width="1" />
<text x="51" y="594.9" font-size="10.3" text-anchor="end" fill="#000" >10</text>
<line x1="116" y1="778.5" x2="116" y2="796" stroke="#444" stroke-width="1" />
<line x1="172.8" y1="778.5" x2="172.8" y2="814.5" stroke="#444" stroke-width="1" />
<line x1="229.3" y1="778.5" x2="229.3" y2="796" stroke="#444" stroke-width="1" />
<line x1="286.3" y1="778.5" x2="286.3" y2="814.5" stroke="#444" stroke-width="1" />
<rect x="68.9" y="765.04" width="11.6" height="13.46" fill="#fff" stroke="#111" stroke-width="1.2"/>
<rect x="81.7" y="742.73" width="11.6" height="35.77" fill="#fff" stroke="#111" stroke-width="1.2"/>
<line x1="81.6" y1="742.62" x2="93.4" y2="778.5" stroke="#333" stroke-width="0.8" />
<rect x="93.9" y="749.06" width="12.8" height="29.44" fill="#000"/>
<line x1="74.7" y1="764.44" x2="74.7" y2="763.88" stroke="#333" stroke-width="0.9" />
<line x1="72.9" y1="763.88" x2="76.5" y2="763.88" stroke="#333" stroke-width="0.9" />
<line x1="87.5" y1="742.12" x2="87.5" y2="738.19" stroke="#333" stroke-width="0.9" />
<line x1="85.7" y1="738.19" x2="89.3" y2="738.19" stroke="#333" stroke-width="0.9" />
<line x1="100.3" y1="749.06" x2="100.3" y2="748.5" stroke="#333" stroke-width="0.9" />
<line x1="98.5" y1="748.5" x2="102.1" y2="748.5" stroke="#333" stroke-width="0.9" />
<rect x="125.5" y="763.73" width="11.6" height="14.78" fill="#fff" stroke="#111" stroke-width="1.2"/>
<rect x="138.3" y="749.1" width="11.6" height="29.4" fill="#fff" stroke="#111" stroke-width="1.2"/>
<line x1="138.2" y1="749" x2="150" y2="778.5" stroke="#333" stroke-width="0.8" />
<rect x="150.5" y="756.94" width="12.8" height="21.56" fill="#000"/>
<line x1="131.3" y1="763.12" x2="131.3" y2="762.19" stroke="#333" stroke-width="0.9" />
<line x1="129.5" y1="762.19" x2="133.1" y2="762.19" stroke="#333" stroke-width="0.9" />
<line x1="144.1" y1="748.5" x2="144.1" y2="743.25" stroke="#333" stroke-width="0.9" />
<line x1="142.3" y1="743.25" x2="145.9" y2="743.25" stroke="#333" stroke-width="0.9" />
<line x1="156.9" y1="756.94" x2="156.9" y2="755.06" stroke="#333" stroke-width="0.9" />
<line x1="155.1" y1="755.06" x2="158.7" y2="755.06" stroke="#333" stroke-width="0.9" />
<rect x="182.1" y="759.04" width="11.6" height="19.46" fill="#fff" stroke="#111" stroke-width="1.2"/>
<rect x="194.9" y="690.79" width="11.6" height="87.71" fill="#fff" stroke="#111" stroke-width="1.2"/>
<line x1="194.8" y1="690.69" x2="206.6" y2="778.5" stroke="#333" stroke-width="0.8" />
<rect x="207.1" y="658.88" width="12.8" height="119.62" fill="#000"/>
<line x1="187.9" y1="758.44" x2="187.9" y2="757.88" stroke="#333" stroke-width="0.9" />
<line x1="186.1" y1="757.88" x2="189.7" y2="757.88" stroke="#333" stroke-width="0.9" />
<line x1="200.7" y1="690.19" x2="200.7" y2="675" stroke="#333" stroke-width="0.9" />
<line x1="198.9" y1="675" x2="202.5" y2="675" stroke="#333" stroke-width="0.9" />
<line x1="213.5" y1="658.88" x2="213.5" y2="651" stroke="#333" stroke-width="0.9" />
<line x1="211.7" y1="651" x2="215.3" y2="651" stroke="#333" stroke-width="0.9" />
<rect x="238.7" y="754.73" width="11.6" height="23.77" fill="#fff" stroke="#111" stroke-width="1.2"/>
<rect x="251.5" y="726.04" width="11.6" height="52.46" fill="#fff" stroke="#111" stroke-width="1.2"/>
<line x1="251.4" y1="725.94" x2="263.2" y2="778.5" stroke="#333" stroke-width="0.8" />
<rect x="263.7" y="732.75" width="12.8" height="45.75" fill="#000"/>
<line x1="244.5" y1="754.12" x2="244.5" y2="751.31" stroke="#333" stroke-width="0.9" />
<line x1="242.7" y1="751.31" x2="246.3" y2="751.31" stroke="#333" stroke-width="0.9" />
<line x1="257.3" y1="725.44" x2="257.3" y2="718.12" stroke="#333" stroke-width="0.9" />
<line x1="255.5" y1="718.12" x2="259.1" y2="718.12" stroke="#333" stroke-width="0.9" />
<line x1="270.1" y1="732.75" x2="270.1" y2="731.62" stroke="#333" stroke-width="0.9" />
<line x1="268.3" y1="731.62" x2="271.9" y2="731.62" stroke="#333" stroke-width="0.9" />
<path d="M85.51 730.5L90.89 730.5M86.86 728.17L89.54 732.83M89.54 728.17L86.86 732.83" stroke="#000" stroke-width="1.14" fill="none"/>
<path d="M97.81 742L103.19 742M99.16 739.67L101.84 744.33M101.84 739.67L99.16 744.33" stroke="#000" stroke-width="1.14" fill="none"/>
<path d="M198.31 668.7L203.69 668.7M199.66 666.37L202.34 671.03M202.34 666.37L199.66 671.03" stroke="#000" stroke-width="1.14" fill="none"/>
<path d="M207.81 645.9L213.19 645.9M209.16 643.57L211.84 648.23M211.84 643.57L209.16 648.23" stroke="#000" stroke-width="1.14" fill="none"/>
<path d="M213.41 645.9L218.79 645.9M214.76 643.57L217.44 648.23M217.44 643.57L214.76 648.23" stroke="#000" stroke-width="1.14" fill="none"/>
<path d="M254.51 712.4L259.89 712.4M255.86 710.07L258.54 714.73M258.54 710.07L255.86 714.73" stroke="#000" stroke-width="1.14" fill="none"/>
<path d="M264.51 725.7L269.89 725.7M265.86 723.37L268.54 728.03M268.54 723.37L265.86 728.03" stroke="#000" stroke-width="1.14" fill="none"/>
<path d="M270.11 725.7L275.49 725.7M271.46 723.37L274.14 728.03M274.14 723.37L271.46 728.03" stroke="#000" stroke-width="1.14" fill="none"/>
<line x1="138.5" y1="730.4" x2="163.2" y2="730.4" stroke="#000" stroke-width="2" />
<path d="M147.81 723.9L153.19 723.9M149.16 721.57L151.84 726.23M151.84 721.57L149.16 726.23" stroke="#000" stroke-width="1.14" fill="none"/>
<line x1="195.5" y1="629.7" x2="219.2" y2="629.7" stroke="#000" stroke-width="2" />
<path d="M204.51 623.2L209.89 623.2M205.86 620.87L208.54 625.53M208.54 620.87L205.86 625.53" stroke="#000" stroke-width="1.14" fill="none"/>
<line x1="251.5" y1="682.3" x2="276.2" y2="682.3" stroke="#000" stroke-width="2" />
<path d="M261.51 675.8L266.89 675.8M262.86 673.47L265.54 678.13M265.54 673.47L262.86 678.13" stroke="#000" stroke-width="1.14" fill="none"/>
<line x1="238.9" y1="696.2" x2="276.2" y2="696.2" stroke="#000" stroke-width="2" />
<path d="M254.51 689.7L259.89 689.7M255.86 687.37L258.54 692.03M258.54 687.37L255.86 692.03" stroke="#000" stroke-width="1.14" fill="none"/>
<text x="33.6" y="685.5" font-size="10.6" text-anchor="middle" font-weight="bold" transform="rotate(-90 33.6 685.5)" fill="#000" textLength="128" lengthAdjust="spacingAndGlyphs">Expression ratio [x-fold]</text>
<rect x="64.7" y="598.7" width="6.8" height="5.9" fill="#fff" stroke="#333" stroke-width="1"/>
<rect x="64.7" y="613.7" width="6.8" height="5.9" fill="#fff" stroke="#333" stroke-width="1"/>
<line x1="64.7" y1="613.7" x2="71.5" y2="619.6" stroke="#333" stroke-width="0.8" />
<rect x="64.5" y="628.5" width="7.5" height="6.2" fill="#000"/>
<text x="75.8" y="604.7" font-size="11.4" text-anchor="start" fill="#000" >AdV [0,5 µg]</text>
<text x="75.8" y="619.6" font-size="11.4" text-anchor="start" fill="#000" >AdV [5 µg]</text>
<text x="75.8" y="635" font-size="11.4" text-anchor="start" fill="#000" >AdDNA</text>
<text x="88.5" y="795" font-size="8.5" text-anchor="middle" fill="#000" >HaCaT</text>
<text x="144.3" y="795" font-size="8.5" text-anchor="middle" fill="#000" >HKC</text>
<text x="201" y="795" font-size="8.5" text-anchor="middle" fill="#000" >HaCaT</text>
<text x="257.6" y="795" font-size="8.5" text-anchor="middle" fill="#000" >HKC</text>
<text x="118.8" y="817.7" font-size="16.3" text-anchor="middle" font-weight="bold" fill="#000" >IFN-α</text>
<text x="231.9" y="817.7" font-size="16.3" text-anchor="middle" font-weight="bold" fill="#000" >IFN-β</text>
<text x="16" y="829" font-size="36" text-anchor="start" font-weight="bold" fill="#000" >D</text>
<line x1="366.5" y1="591" x2="366.5" y2="782" stroke="#6d6d6d" stroke-width="1.2" />
<line x1="366.5" y1="779.4" x2="556.5" y2="779.4" stroke="#333" stroke-width="1.2" />
<line x1="363.5" y1="779.4" x2="366.5" y2="779.4" stroke="#444" stroke-width="1" />
<text x="357.8" y="784" font-size="10.3" text-anchor="end" fill="#000" >0</text>
<line x1="363.5" y1="752.49" x2="366.5" y2="752.49" stroke="#444" stroke-width="1" />
<text x="357.8" y="757.09" font-size="10.3" text-anchor="end" fill="#000" >5</text>
<line x1="363.5" y1="725.57" x2="366.5" y2="725.57" stroke="#444" stroke-width="1" />
<text x="357.8" y="730.17" font-size="10.3" text-anchor="end" fill="#000" >10</text>
<line x1="363.5" y1="698.65" x2="366.5" y2="698.65" stroke="#444" stroke-width="1" />
<text x="357.8" y="703.25" font-size="10.3" text-anchor="end" fill="#000" >15</text>
<line x1="363.5" y1="671.74" x2="366.5" y2="671.74" stroke="#444" stroke-width="1" />
<text x="357.8" y="676.34" font-size="10.3" text-anchor="end" fill="#000" >20</text>
<line x1="363.5" y1="644.83" x2="366.5" y2="644.83" stroke="#444" stroke-width="1" />
<text x="357.8" y="649.43" font-size="10.3" text-anchor="end" fill="#000" >25</text>
<line x1="363.5" y1="617.91" x2="366.5" y2="617.91" stroke="#444" stroke-width="1" />
<text x="357.8" y="622.51" font-size="10.3" text-anchor="end" fill="#000" >30</text>
<line x1="363.5" y1="591" x2="366.5" y2="591" stroke="#444" stroke-width="1" />
<text x="357.8" y="595.6" font-size="10.3" text-anchor="end" fill="#000" >35</text>
<line x1="366.5" y1="779.4" x2="366.5" y2="782.4" stroke="#444" stroke-width="1" />
<line x1="398.2" y1="779.4" x2="398.2" y2="782.4" stroke="#444" stroke-width="1" />
<line x1="429.9" y1="779.4" x2="429.9" y2="782.4" stroke="#444" stroke-width="1" />
<line x1="461.6" y1="779.4" x2="461.6" y2="782.4" stroke="#444" stroke-width="1" />
<line x1="493.3" y1="779.4" x2="493.3" y2="782.4" stroke="#444" stroke-width="1" />
<line x1="525" y1="779.4" x2="525" y2="782.4" stroke="#444" stroke-width="1" />
<line x1="556.7" y1="779.4" x2="556.7" y2="782.4" stroke="#444" stroke-width="1" />
<line x1="377.4" y1="769.82" x2="377.4" y2="768.1" stroke="#888" stroke-width="0.9" />
<line x1="375.8" y1="768.1" x2="379" y2="768.1" stroke="#888" stroke-width="0.9" />
<line x1="386.6" y1="770.25" x2="386.6" y2="768.1" stroke="#888" stroke-width="0.9" />
<line x1="385" y1="768.1" x2="388.2" y2="768.1" stroke="#888" stroke-width="0.9" />
<rect x="372.8" y="769.82" width="9.2" height="9.58" fill="#000"/>
<rect x="382.5" y="770.75" width="8.2" height="8.65" fill="#fff" stroke="#333" stroke-width="1"/>
<line x1="409.1" y1="638.9" x2="409.1" y2="603" stroke="#888" stroke-width="0.9" />
<line x1="407.5" y1="603" x2="410.7" y2="603" stroke="#888" stroke-width="0.9" />
<line x1="418.3" y1="718.03" x2="418.3" y2="698.65" stroke="#888" stroke-width="0.9" />
<line x1="416.7" y1="698.65" x2="419.9" y2="698.65" stroke="#888" stroke-width="0.9" />
<rect x="404.5" y="638.9" width="9.2" height="140.5" fill="#000"/>
<rect x="414.2" y="718.53" width="8.2" height="60.87" fill="#fff" stroke="#333" stroke-width="1"/>
<line x1="440.8" y1="723.96" x2="440.8" y2="698.65" stroke="#888" stroke-width="0.9" />
<line x1="439.2" y1="698.65" x2="442.4" y2="698.65" stroke="#888" stroke-width="0.9" />
<line x1="450" y1="765.14" x2="450" y2="762.5" stroke="#888" stroke-width="0.9" />
<line x1="448.4" y1="762.5" x2="451.6" y2="762.5" stroke="#888" stroke-width="0.9" />
<rect x="436.2" y="723.96" width="9.2" height="55.44" fill="#000"/>
<rect x="445.9" y="765.64" width="8.2" height="13.76" fill="#fff" stroke="#333" stroke-width="1"/>
<line x1="472.5" y1="660.44" x2="472.5" y2="616.83" stroke="#888" stroke-width="0.9" />
<line x1="470.9" y1="616.83" x2="474.1" y2="616.83" stroke="#888" stroke-width="0.9" />
<line x1="481.7" y1="767.02" x2="481.7" y2="762.01" stroke="#888" stroke-width="0.9" />
<line x1="480.1" y1="762.01" x2="483.3" y2="762.01" stroke="#888" stroke-width="0.9" />
<rect x="467.9" y="660.44" width="9.2" height="118.96" fill="#000"/>
<rect x="477.6" y="767.52" width="8.2" height="11.88" fill="#fff" stroke="#333" stroke-width="1"/>
<line x1="504.2" y1="715.34" x2="504.2" y2="694.35" stroke="#888" stroke-width="0.9" />
<line x1="502.6" y1="694.35" x2="505.8" y2="694.35" stroke="#888" stroke-width="0.9" />
<line x1="513.4" y1="741.99" x2="513.4" y2="733.32" stroke="#888" stroke-width="0.9" />
<line x1="511.8" y1="733.32" x2="515" y2="733.32" stroke="#888" stroke-width="0.9" />
<rect x="499.6" y="715.34" width="9.2" height="64.06" fill="#000"/>
<rect x="509.3" y="742.49" width="8.2" height="36.91" fill="#fff" stroke="#333" stroke-width="1"/>
<line x1="535.9" y1="753.02" x2="535.9" y2="739.03" stroke="#888" stroke-width="0.9" />
<line x1="534.3" y1="739.03" x2="537.5" y2="739.03" stroke="#888" stroke-width="0.9" />
<line x1="545.1" y1="770.25" x2="545.1" y2="767.02" stroke="#888" stroke-width="0.9" />
<line x1="543.5" y1="767.02" x2="546.7" y2="767.02" stroke="#888" stroke-width="0.9" />
<rect x="531.3" y="753.02" width="9.2" height="26.38" fill="#000"/>
<rect x="541" y="770.75" width="8.2" height="8.65" fill="#fff" stroke="#333" stroke-width="1"/>
<path d="M403.81 602.6L409.19 602.6M405.16 600.27L407.84 604.93M407.84 600.27L405.16 604.93" stroke="#222" stroke-width="1.04" fill="none"/>
<path d="M409.41 602.6L414.79 602.6M410.76 600.27L413.44 604.93M413.44 600.27L410.76 604.93" stroke="#222" stroke-width="1.04" fill="none"/>
<path d="M415.31 692.2L420.69 692.2M416.66 689.87L419.34 694.53M419.34 689.87L416.66 694.53" stroke="#222" stroke-width="1.04" fill="none"/>
<path d="M446.71 757.4L452.09 757.4M448.06 755.07L450.74 759.73M450.74 755.07L448.06 759.73" stroke="#222" stroke-width="1.04" fill="none"/>
<path d="M469.81 613.9L475.19 613.9M471.16 611.57L473.84 616.23M473.84 611.57L471.16 616.23" stroke="#222" stroke-width="1.04" fill="none"/>
<path d="M498.11 690L503.49 690M499.46 687.67L502.14 692.33M502.14 687.67L499.46 692.33" stroke="#222" stroke-width="1.04" fill="none"/>
<path d="M503.71 690L509.09 690M505.06 687.67L507.74 692.33M507.74 687.67L505.06 692.33" stroke="#222" stroke-width="1.04" fill="none"/>
<path d="M509.71 730L515.09 730M511.06 727.67L513.74 732.33M513.74 727.67L511.06 732.33" stroke="#222" stroke-width="1.04" fill="none"/>
<path d="M532.11 735L537.49 735M533.46 732.67L536.14 737.33M536.14 732.67L533.46 737.33" stroke="#222" stroke-width="1.04" fill="none"/>
<text x="337.3" y="683.8" font-size="11" text-anchor="middle" font-weight="bold" transform="rotate(-90 337.3 683.8)" fill="#000" textLength="130.4" lengthAdjust="spacingAndGlyphs">Expression ratio [x-fold]</text>
<rect x="509.9" y="593.7" width="8.8" height="8" fill="#000"/>
<rect x="510.4" y="612.1" width="7.8" height="7.2" fill="#fff" stroke="#444" stroke-width="1"/>
<text x="521.2" y="601.4" font-size="11.6" text-anchor="start" fill="#000" textLength="35.8" lengthAdjust="spacingAndGlyphs">HaCaT</text>
<text x="521.2" y="619.7" font-size="11.6" text-anchor="start" fill="#000" textLength="23" lengthAdjust="spacingAndGlyphs">HKC</text>
<text x="386.7" y="782" font-size="13.3" text-anchor="end" transform="rotate(-90 386.7 782)" fill="#000" >IFN-α</text>
<text x="418.4" y="782" font-size="13.3" text-anchor="end" transform="rotate(-90 418.4 782)" fill="#000" >IFN-β</text>
<text x="450.1" y="782" font-size="13.3" text-anchor="end" transform="rotate(-90 450.1 782)" fill="#000" >IL-1α</text>
<text x="481.8" y="782" font-size="13.3" text-anchor="end" transform="rotate(-90 481.8 782)" fill="#000" >IL-6</text>
<text x="513.5" y="782" font-size="13.3" text-anchor="end" transform="rotate(-90 513.5 782)" fill="#000" >IL-8</text>
<text x="545.2" y="782" font-size="13.3" text-anchor="end" transform="rotate(-90 545.2 782)" fill="#000" >TNFα</text>
<text transform="translate(323.6 828.4) scale(0.83 1)" font-size="36" font-weight="bold">E</text>
</svg></body></html>
